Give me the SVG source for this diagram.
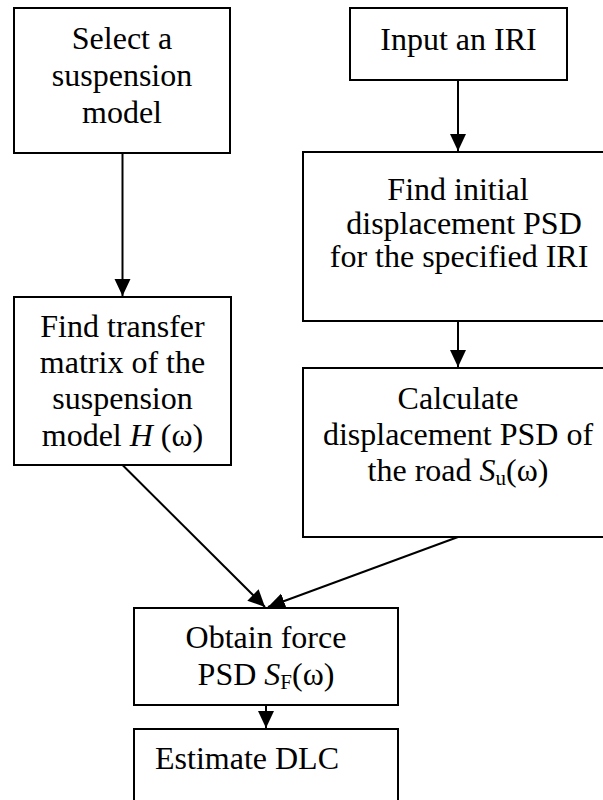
<svg xmlns="http://www.w3.org/2000/svg" width="603" height="800" viewBox="0 0 603 800">
<style>
.box{fill:#fff;stroke:#000;stroke-width:2}
.t{font-family:"Liberation Serif","Times New Roman",serif;font-size:32px;fill:#000;text-anchor:middle}
.l{text-anchor:start}
.c{stroke:#000;stroke-width:2;fill:none;marker-end:url(#ah)}
.i{font-style:italic}
</style>
<defs>
<marker id="ah" markerUnits="userSpaceOnUse" markerWidth="18" markerHeight="17" refX="17" refY="8" orient="auto">
<path d="M0,0 L17,8 L0,16 z" fill="#000"/>
</marker>
</defs>
<rect width="603" height="800" fill="#fff"/>
<g id="connectors">
<line class="c" x1="122.5" y1="153" x2="122.5" y2="296"/>
<line class="c" x1="458" y1="80" x2="458" y2="151"/>
<line class="c" x1="458" y1="321" x2="458" y2="367"/>
<line class="c" x1="122.5" y1="465" x2="265" y2="607"/>
<line class="c" x1="458" y1="537" x2="268" y2="607"/>
<line class="c" x1="266" y1="705" x2="266" y2="728"/>
</g>
<g id="select">
<rect class="box" x="14" y="8" width="216" height="145"/>
<text class="t" x="122" y="49">Select a</text>
<text class="t" x="122" y="86">suspension</text>
<text class="t" x="122" y="123">model</text>
</g>
<g id="input">
<rect class="box" x="350" y="8" width="217" height="72"/>
<text class="t" x="458.5" y="50">Input an IRI</text>
</g>
<g id="initial">
<rect class="box" x="303" y="152" width="312" height="169"/>
<text class="t" x="458" y="200">Find initial</text>
<text class="t" x="464" y="234">displacement PSD</text>
<text class="t" x="459" y="267">for the specified IRI</text>
</g>
<g id="transfer">
<rect class="box" x="14" y="297" width="217" height="168"/>
<text class="t" x="122.5" y="336.5">Find transfer</text>
<text class="t" x="122.5" y="372.5">matrix of the</text>
<text class="t" x="122.5" y="409">suspension</text>
<text class="t" x="122.5" y="445.5">model <tspan class="i">H</tspan> (ω)</text>
</g>
<g id="calculate">
<rect class="box" x="303" y="368" width="312" height="169"/>
<text class="t" x="458" y="409">Calculate</text>
<text class="t" x="458" y="445">displacement PSD of</text>
<text class="t" x="458" y="481">the road <tspan class="i">S</tspan><tspan font-size="21" dy="4">u</tspan><tspan dy="-4">(ω)</tspan></text>
</g>
<g id="obtain">
<rect class="box" x="134" y="608" width="264" height="97"/>
<text class="t" x="266" y="648">Obtain force</text>
<text class="t" x="266" y="685">PSD <tspan class="i">S</tspan><tspan font-size="21" dy="4">F</tspan><tspan dy="-4">(ω)</tspan></text>
</g>
<g id="estimate">
<rect class="box" x="134" y="729" width="264" height="90"/>
<text class="t l" x="155" y="769">Estimate DLC</text>
</g>
</svg>
